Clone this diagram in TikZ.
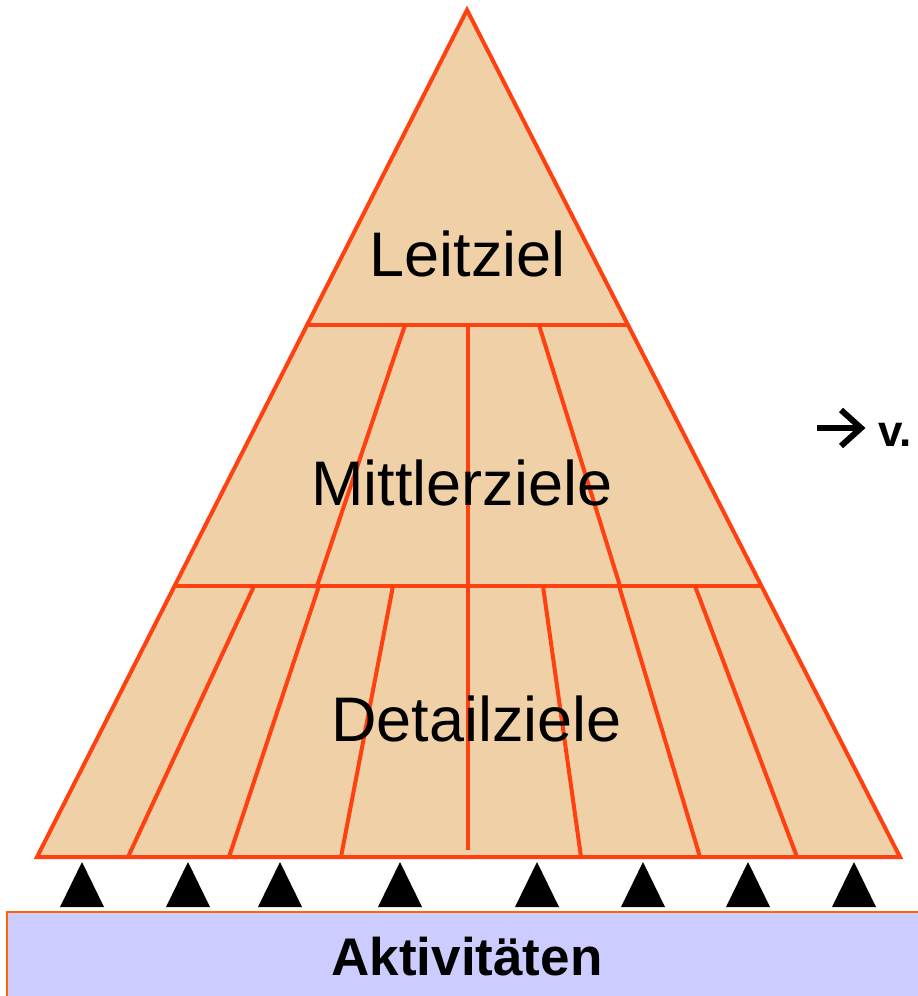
\documentclass[tikz,border=0pt]{standalone}
\usepackage{fontspec}
\setmainfont{Liberation Sans}
\definecolor{pyrfill}{RGB}{240,208,166}
\definecolor{pyrline}{RGB}{255,64,16}
\definecolor{actfill}{RGB}{204,204,255}
\definecolor{actline}{RGB}{255,102,0}
\begin{document}
\begin{tikzpicture}[x=1pt,y=-1pt,
  seg/.style={draw=pyrline,line width=4pt},
  lbl/.style={inner sep=0,anchor=base,font=\fontsize{63}{70}\selectfont},
  tri/.style={fill=black}]
\useasboundingbox (0,0) rectangle (918,996);
% pyramid
\coordinate (apex) at (467,10);
\coordinate (bl) at (37,857);
\coordinate (br) at (900,857);
\fill[pyrfill] (apex) -- (bl) -- (br) -- cycle;
% division lines
\draw[seg] (307,325) -- (628,325);
\draw[seg] (175,586) -- (761,586);
\draw[seg] (405,325) -- (317,586);
\draw[seg] (468,325) -- (468,850);
\draw[seg] (539,325) -- (620,586);
\draw[seg] (254,586) -- (128,857);
\draw[seg] (319,586) -- (229,857);
\draw[seg] (393,586) -- (341,857);
\draw[seg] (543,586) -- (581,857);
\draw[seg] (619,586) -- (700,857);
\draw[seg] (695,586) -- (797,857);
\draw[seg] (apex) -- (bl) -- (br) -- cycle;
% labels
\node[lbl] (leit) at (467.5,276) {Leitziel};
\node[lbl] (mitt) at (462,505) {Mittlerziele};
\node[lbl] (det) at (476.5,741) {Detailziele};
% arrowheads
\foreach \x in {82,188,280,400,537,643,748,854}
  \fill[tri] (\x-22,907) -- (\x,862) -- (\x+22,907) -- cycle;
% activities box
\draw[fill=actfill,draw=actline,line width=2.5pt] (7,912) rectangle (930,1010);
\node[inner sep=0,anchor=base,font=\bfseries\fontsize{53}{60}\selectfont] (akt) at (467,975) {Aktivitäten};
% side note
\draw[line width=6pt] (817,428) -- (857,428);
\draw[line width=6pt,line join=miter] (841,410) -- (861,428) -- (841,446);
\node[inner sep=0,anchor=base west,font=\bfseries\fontsize{44}{48}\selectfont] (vv) at (878,446) {v.};
\end{tikzpicture}
\end{document}
